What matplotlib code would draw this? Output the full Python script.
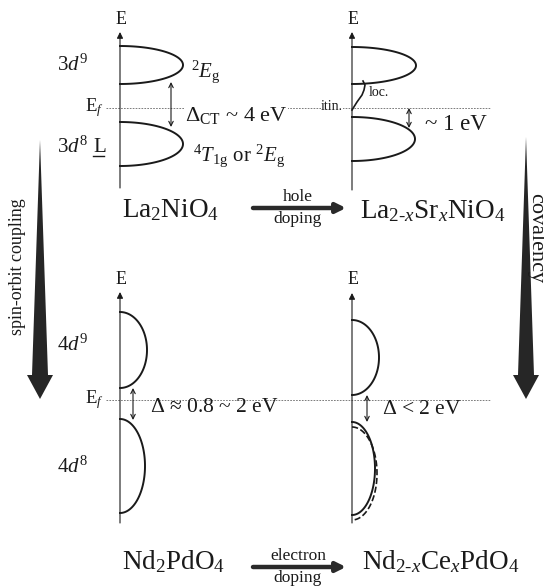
import numpy as np
import matplotlib
matplotlib.use("Agg")
import matplotlib.pyplot as plt
from matplotlib.patches import Polygon

plt.rcParams['font.family'] = ['Liberation Serif', 'DejaVu Serif']
plt.rcParams['mathtext.fontset'] = 'custom'
plt.rcParams['mathtext.rm'] = 'Liberation Serif'
plt.rcParams['mathtext.it'] = 'Liberation Serif:italic'
plt.rcParams['mathtext.bf'] = 'Liberation Serif:bold'

# energy axes of the four panels: x, arrow top, bottom
axis_x = [120, 352, 120, 352]
axis_top = [32, 32, 292, 293]
axis_bottom = [188, 190, 523, 523]

# bands as half ellipses: (panel, top, bottom, width, style)
bands = [
    (0, 46, 84, 63, '-'), (0, 122, 166, 63, '-'),
    (1, 47, 84, 64, '-'), (1, 117, 161, 63, '-'),
    (2, 312, 388, 27, '-'), (2, 419, 513, 25, '-'),
    (3, 320, 395, 27, '-'), (3, 422, 515, 23, '-'), (3, 427, 520, 25, '--'),
]

# gap arrows: (x, y_from, y_to)
gaps = [(171, 82, 127), (409, 108, 128), (133, 388, 420), (367, 395, 422)]

fermi_y = [108, 400]

compounds = [r'La$_2$NiO$_4$', r'La$_{2\text{-}x}$Sr$_x$NiO$_4$',
             r'Nd$_2$PdO$_4$', r'Nd$_{2\text{-}x}$Ce$_x$PdO$_4$']
doping = [('hole', 'doping'), ('electron', 'doping')]

fig = plt.figure(figsize=(5.44, 5.86), dpi=100)
ax = fig.add_axes([0, 0, 1, 1])
ax.set_xlim(0, 544)
ax.set_ylim(586, 0)
ax.axis('off')

ink = '#1a1a1a'

# Fermi levels
for y in fermi_y:
    ax.plot([106, 490], [y, y], ls=(0, (2, 1.5)), lw=0.6, color='#666666', zorder=1)

# energy axes
for i in range(4):
    ax.annotate('', xy=(axis_x[i], axis_top[i]), xytext=(axis_x[i], axis_bottom[i]),
                arrowprops=dict(arrowstyle='-|>', lw=0.8, color=ink,
                                mutation_scale=9, shrinkA=0, shrinkB=0), zorder=3)
    ax.text(axis_x[i] + 1, axis_top[i] - 13, 'E', fontsize=13, ha='center', va='center', color=ink)

# density of states
for p, top, bot, w, st in bands:
    t = np.linspace(-np.pi / 2, np.pi / 2, 120)
    yc, h = (top + bot) / 2, (bot - top) / 2
    ax.plot(axis_x[p] + w * np.cos(t), yc + h * np.sin(t), ls=st,
            lw=1.4 if st == '-' else 1.2, color=ink, zorder=3)

# localized in-gap states of the hole-doped nickelate
ly = np.array([110, 102, 95, 90, 85, 81])
lx = np.array([352, 357, 362, 364, 365, 363])
ax.plot(lx, ly, lw=1.2, color=ink, zorder=3)

for x, y0, y1 in gaps:
    ax.annotate('', xy=(x, y1), xytext=(x, y0),
                arrowprops=dict(arrowstyle='<->', lw=0.8, color=ink,
                                mutation_scale=8, shrinkA=0, shrinkB=0))

# level labels
ax.text(57, 65, r'3$d^9$', fontsize=15, va='center', color=ink)
ax.text(57, 147, r'3$d^8$', fontsize=15, va='center', color=ink)
ax.text(93, 147, 'L', fontsize=15, va='center', color=ink)
ax.plot([93, 104], [156, 156], lw=1.0, color=ink)
ax.text(57, 345, r'4$d^9$', fontsize=15, va='center', color=ink)
ax.text(57, 467, r'4$d^8$', fontsize=15, va='center', color=ink)
for y in fermi_y:
    ax.text(85, y, r'E$_f$', fontsize=13.5, va='center', color=ink)

ax.text(191, 72, r'$^2E_{\mathrm{g}}$', fontsize=15, va='center', color=ink)
ax.text(193, 156, r'$^4T_{1\mathrm{g}}$ or $^2E_{\mathrm{g}}$', fontsize=15, va='center', color=ink)
ax.text(185, 115, r'$\Delta_{\mathrm{CT}}$ ~ 4 eV', fontsize=16, va='center', color=ink,
        bbox=dict(facecolor='white', edgecolor='none', pad=0.5))
ax.text(425, 124, '~ 1 eV', fontsize=16.5, va='center', color=ink)
ax.text(321, 107, 'itin.', fontsize=10, va='center', color=ink,
        bbox=dict(facecolor='white', edgecolor='none', pad=0.3))
ax.text(369, 93, 'loc.', fontsize=10, va='center', color=ink)
ax.text(150, 408, r'$\Delta$ ≈ 0.8 ~ 2 eV', fontsize=15.5, va='center', color=ink)
ax.text(382, 409, r'$\Delta$ < 2 eV', fontsize=15.5, va='center', color=ink)

# compounds and doping arrows
for (x, y), s in zip([(122, 210), (360, 211), (122, 562), (362, 562)], compounds):
    ax.text(x, y, s, fontsize=19.5, va='center', color=ink)
for y, (a, b) in zip([208, 567], doping):
    ax.annotate('', xy=(346, y), xytext=(253, y),
                arrowprops=dict(arrowstyle='-|>', lw=3.2, color='#2a2a2a',
                                mutation_scale=14, shrinkA=0, shrinkB=0))
    ax.text(298, y - 11, a, fontsize=12.5, ha='center', va='center', color=ink)
    ax.text(298, y + 11, b, fontsize=12.5, ha='center', va='center', color=ink)

# tapered trend arrows
for x, y0 in [(40, 140), (526, 137)]:
    pts = [(x, y0), (x + 8, 375), (x + 13, 375), (x, 399), (x - 13, 375), (x - 8, 375)]
    ax.add_patch(Polygon(pts, closed=True, facecolor='#262626', edgecolor='none'))
ax.text(18, 267, 'spin-orbit coupling', fontsize=13, rotation=90, ha='center', va='center', color=ink)
ax.text(531, 238, 'covalency', fontsize=16, rotation=270, rotation_mode='anchor',
        ha='center', va='baseline', color=ink)

fig.savefig('out.png', dpi=100)
